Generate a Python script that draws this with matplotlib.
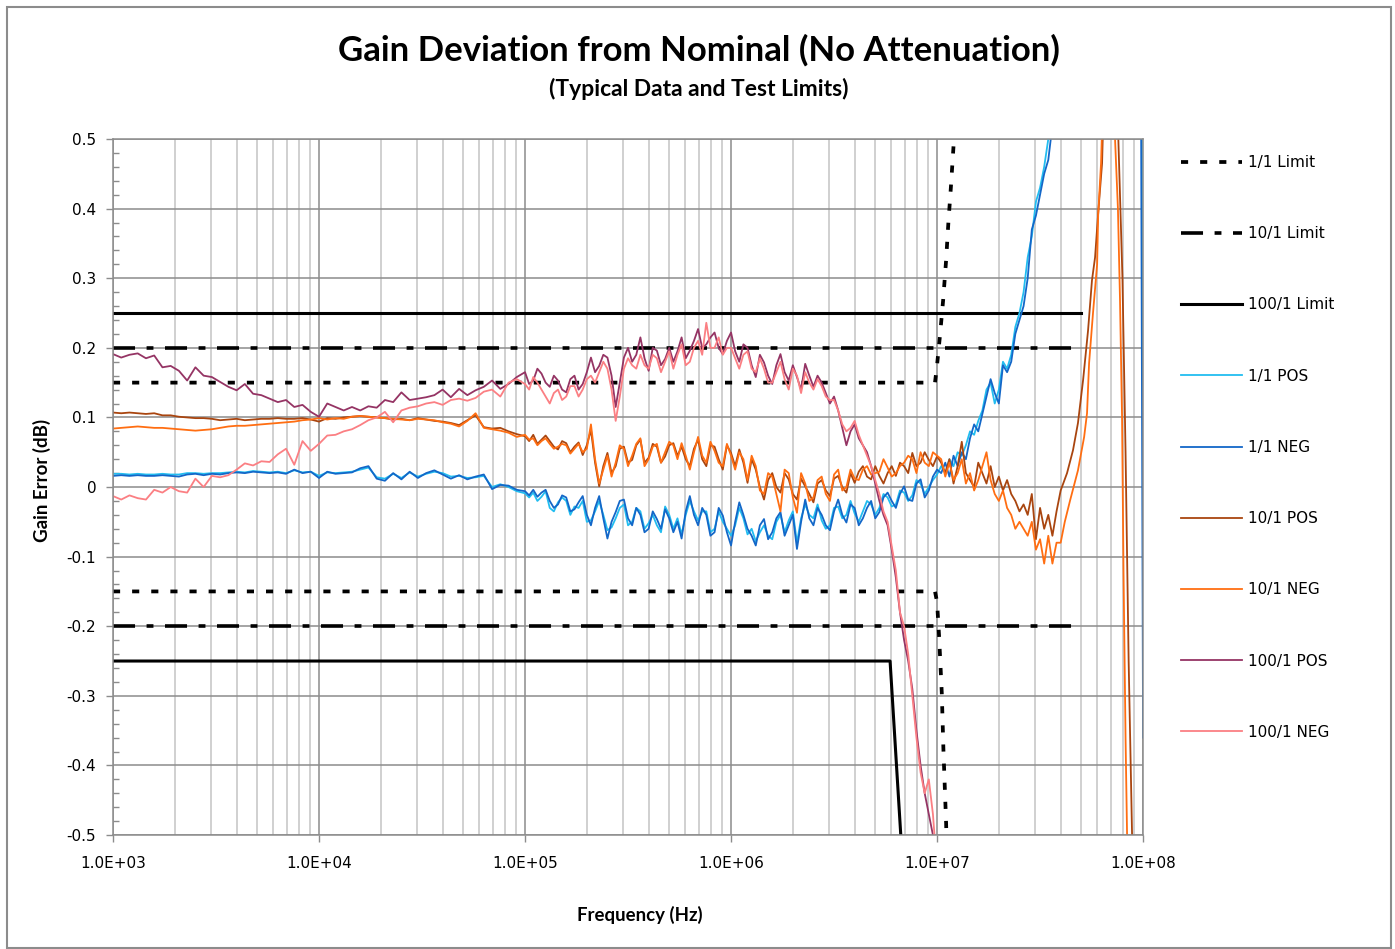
import numpy as np
import matplotlib.pyplot as plt
from matplotlib.patches import Rectangle
from matplotlib.ticker import FuncFormatter, LogLocator, MultipleLocator, NullFormatter

# sweep points, log10(frequency / Hz), 1 kHz .. 10 MHz
sweep = [3.00, 3.04, 3.08, 3.12, 3.16, 3.20, 3.24, 3.28, 3.32, 3.36,
         3.40, 3.44, 3.48, 3.52, 3.56, 3.60, 3.64, 3.68, 3.72, 3.76,
         3.80, 3.84, 3.88, 3.92, 3.96, 4.00, 4.04, 4.08, 4.12, 4.16,
         4.20, 4.24, 4.28, 4.32, 4.36, 4.40, 4.44, 4.48, 4.52, 4.56,
         4.60, 4.64, 4.68, 4.72, 4.76, 4.80, 4.84, 4.88, 4.92, 4.96,
         5.00, 5.04, 5.08, 5.12, 5.16, 5.20, 5.24, 5.28, 5.32, 5.36,
         5.40, 5.44, 5.48, 5.52, 5.56, 5.60, 5.64, 5.68, 5.72, 5.76,
         5.80, 5.84, 5.88, 5.92, 5.96, 6.00, 6.04, 6.08, 6.12, 6.16,
         6.20, 6.24, 6.28, 6.32, 6.36, 6.40, 6.44, 6.48, 6.52, 6.56,
         6.60, 6.64, 6.68, 6.72, 6.76, 6.80, 6.84, 6.88, 6.92, 6.96,
         7.00]

# extra sweep points between the above, 100 kHz .. 10 MHz
sweep_mid = [5.02, 5.06, 5.10, 5.14, 5.18, 5.22, 5.26, 5.30, 5.34, 5.38,
             5.42, 5.46, 5.50, 5.54, 5.58, 5.62, 5.66, 5.70, 5.74, 5.78,
             5.82, 5.86, 5.90, 5.94, 5.98, 6.02, 6.06, 6.10, 6.14, 6.18,
             6.22, 6.26, 6.30, 6.34, 6.38, 6.42, 6.46, 6.50, 6.54, 6.58,
             6.62, 6.66, 6.70, 6.74, 6.78, 6.82, 6.86, 6.90, 6.94, 6.98]

# sweep continued above 10 MHz (1/1 and 10/1 only)
sweep_hf = [7.02, 7.04, 7.06, 7.08, 7.10, 7.12, 7.14, 7.16, 7.18, 7.20,
            7.22, 7.24, 7.26, 7.28, 7.30, 7.32, 7.34, 7.36, 7.38, 7.40,
            7.42, 7.44, 7.46, 7.48, 7.50, 7.52, 7.54, 7.56, 7.58, 7.60]

# gain error (dB) on the main sweep
pos_1 = [0.019, 0.019, 0.018, 0.019, 0.018, 0.018, 0.019, 0.018, 0.018, 0.020,
         0.020, 0.019, 0.020, 0.020, 0.021, 0.022, 0.021, 0.023, 0.022, 0.021,
         0.022, 0.020, 0.024, 0.021, 0.022, 0.016, 0.021, 0.020, 0.021, 0.022,
         0.025, 0.028, 0.014, 0.012, 0.019, 0.013, 0.021, 0.015, 0.019, 0.022,
         0.020, 0.015, 0.016, 0.013, 0.014, 0.016, 0.000, 0.004, 0.000, -0.006,
         -0.009, -0.008, -0.014, -0.030, -0.022, -0.020, -0.028, -0.020, -0.048, -0.020,
         -0.062, -0.045, -0.025, -0.050, -0.035, -0.052, -0.055, -0.028, -0.060, -0.068,
         -0.020, -0.048, -0.035, -0.060, -0.050, -0.070, -0.030, -0.068, -0.078, -0.055,
         -0.075, -0.040, -0.048, -0.080, -0.025, -0.045, -0.048, -0.055, -0.028, -0.040,
         -0.038, -0.035, -0.025, -0.030, -0.015, -0.025, -0.008, -0.012, 0.005, 0.000,
         0.018]
neg_1 = [0.016, 0.017, 0.016, 0.017, 0.016, 0.016, 0.017, 0.016, 0.015, 0.018,
         0.019, 0.017, 0.019, 0.018, 0.020, 0.021, 0.020, 0.022, 0.021, 0.020,
         0.021, 0.019, 0.025, 0.020, 0.022, 0.013, 0.022, 0.019, 0.020, 0.021,
         0.027, 0.030, 0.012, 0.009, 0.020, 0.011, 0.022, 0.013, 0.020, 0.024,
         0.018, 0.012, 0.017, 0.011, 0.015, 0.018, -0.003, 0.003, 0.002, -0.004,
         -0.006, -0.004, -0.008, -0.020, -0.025, -0.015, -0.032, -0.013, -0.055, -0.013,
         -0.074, -0.036, -0.018, -0.055, -0.040, -0.060, -0.046, -0.032, -0.065, -0.074,
         -0.013, -0.055, -0.040, -0.065, -0.041, -0.084, -0.022, -0.060, -0.084, -0.046,
         -0.065, -0.036, -0.055, -0.089, -0.018, -0.055, -0.040, -0.062, -0.018, -0.051,
         -0.030, -0.045, -0.020, -0.036, -0.008, -0.030, 0.001, -0.020, 0.011, -0.005,
         0.025]
pos_10 = [0.107, 0.106, 0.107, 0.106, 0.105, 0.106, 0.103, 0.103, 0.101, 0.100,
          0.099, 0.099, 0.098, 0.096, 0.097, 0.098, 0.096, 0.097, 0.098, 0.098,
          0.099, 0.098, 0.098, 0.099, 0.097, 0.094, 0.099, 0.098, 0.100, 0.101,
          0.102, 0.101, 0.100, 0.099, 0.097, 0.098, 0.096, 0.099, 0.097, 0.095,
          0.094, 0.092, 0.089, 0.096, 0.103, 0.086, 0.084, 0.085, 0.080, 0.076,
          0.073, 0.075, 0.068, 0.066, 0.054, 0.063, 0.058, 0.046, 0.082, 0.001,
          0.049, 0.030, 0.058, 0.039, 0.068, 0.042, 0.058, 0.044, 0.063, 0.058,
          0.030, 0.068, 0.030, 0.058, 0.025, 0.049, 0.054, 0.006, 0.025, -0.018,
          0.020, -0.008, 0.011, -0.018, 0.001, -0.022, 0.010, -0.013, 0.016, -0.008,
          0.006, 0.030, 0.011, 0.016, 0.020, 0.016, 0.030, 0.049, 0.035, 0.039,
          0.044]
neg_10 = [0.084, 0.085, 0.086, 0.087, 0.086, 0.085, 0.085, 0.084, 0.083, 0.082,
          0.081, 0.082, 0.083, 0.085, 0.087, 0.088, 0.088, 0.089, 0.090, 0.091,
          0.092, 0.093, 0.094, 0.096, 0.097, 0.099, 0.097, 0.099, 0.098, 0.101,
          0.102, 0.101, 0.100, 0.099, 0.098, 0.097, 0.096, 0.098, 0.097, 0.096,
          0.093, 0.091, 0.087, 0.095, 0.106, 0.085, 0.083, 0.081, 0.078, 0.072,
          0.075, 0.070, 0.066, 0.062, 0.058, 0.060, 0.055, 0.050, 0.090, 0.005,
          0.045, 0.035, 0.055, 0.045, 0.070, 0.040, 0.062, 0.050, 0.060, 0.063,
          0.025, 0.072, 0.035, 0.052, 0.030, 0.045, 0.050, 0.010, 0.030, -0.010,
          0.015, -0.035, 0.020, -0.037, 0.005, -0.015, 0.015, -0.020, 0.025, 0.000,
          0.012, 0.025, 0.018, 0.022, 0.028, 0.020, 0.035, 0.040, 0.050, 0.030,
          0.045]
pos_100 = [0.191, 0.186, 0.190, 0.192, 0.185, 0.189, 0.172, 0.174, 0.167, 0.153,
           0.172, 0.160, 0.158, 0.151, 0.144, 0.139, 0.148, 0.134, 0.132, 0.127,
           0.122, 0.125, 0.115, 0.118, 0.108, 0.101, 0.120, 0.115, 0.110, 0.115,
           0.110, 0.116, 0.114, 0.125, 0.122, 0.136, 0.125, 0.127, 0.129, 0.132,
           0.140, 0.129, 0.141, 0.132, 0.139, 0.144, 0.153, 0.141, 0.148, 0.158,
           0.165, 0.153, 0.163, 0.144, 0.153, 0.136, 0.160, 0.148, 0.186, 0.174,
           0.186, 0.115, 0.186, 0.180, 0.215, 0.167, 0.196, 0.184, 0.180, 0.215,
           0.196, 0.227, 0.205, 0.222, 0.191, 0.222, 0.180, 0.200, 0.158, 0.179,
           0.148, 0.191, 0.153, 0.158, 0.177, 0.144, 0.150, 0.120, 0.110, 0.060,
           0.090, 0.060, 0.030, -0.020, -0.055, -0.130, -0.220, -0.290, -0.400, -0.470,
           -0.550]
neg_100 = [-0.013, -0.018, -0.012, -0.016, -0.018, -0.004, -0.008, 0.000, -0.006, -0.008,
           0.012, 0.000, 0.016, 0.014, 0.017, 0.025, 0.034, 0.031, 0.037, 0.036,
           0.047, 0.055, 0.032, 0.066, 0.052, 0.062, 0.074, 0.075, 0.080, 0.083,
           0.089, 0.096, 0.100, 0.108, 0.093, 0.110, 0.114, 0.116, 0.120, 0.122,
           0.118, 0.125, 0.127, 0.124, 0.128, 0.137, 0.140, 0.130, 0.150, 0.155,
           0.148, 0.158, 0.140, 0.120, 0.140, 0.130, 0.145, 0.140, 0.160, 0.165,
           0.170, 0.095, 0.170, 0.175, 0.190, 0.170, 0.185, 0.180, 0.170, 0.205,
           0.180, 0.210, 0.236, 0.200, 0.190, 0.200, 0.170, 0.195, 0.165, 0.170,
           0.150, 0.180, 0.140, 0.160, 0.165, 0.140, 0.145, 0.125, 0.110, 0.080,
           0.095, 0.060, 0.030, -0.010, -0.050, -0.120, -0.200, -0.300, -0.410, -0.420,
           -0.550]

# gain error on the in-between points
pos_1_mid = [-0.015, -0.020, -0.006, -0.035, -0.015, -0.040, -0.030, -0.050, -0.035, -0.040,
             -0.058, -0.030, -0.055, -0.030, -0.060, -0.040, -0.065, -0.040, -0.045, -0.040,
             -0.035, -0.035, -0.065, -0.035, -0.060, -0.055, -0.045, -0.060, -0.065, -0.070,
             -0.050, -0.065, -0.035, -0.045, -0.040, -0.025, -0.060, -0.030, -0.045, -0.020,
             -0.050, -0.020, -0.040, -0.010, -0.028, -0.005, -0.020, 0.010, -0.010, 0.010]
neg_1_mid = [-0.012, -0.014, -0.004, -0.030, -0.012, -0.035, -0.022, -0.040, -0.030, -0.045,
             -0.050, -0.020, -0.045, -0.030, -0.065, -0.035, -0.060, -0.045, -0.050, -0.035,
             -0.040, -0.030, -0.070, -0.030, -0.065, -0.050, -0.040, -0.070, -0.055, -0.075,
             -0.045, -0.070, -0.040, -0.050, -0.045, -0.030, -0.055, -0.035, -0.040, -0.025,
             -0.055, -0.030, -0.045, -0.015, -0.020, -0.010, -0.018, 0.005, -0.015, 0.015]
pos_10_mid = [0.066, 0.062, 0.074, 0.058, 0.066, 0.050, 0.064, 0.060, 0.035, 0.030,
              0.020, 0.055, 0.035, 0.060, 0.035, 0.062, 0.035, 0.060, 0.045, 0.040,
              0.055, 0.040, 0.060, 0.040, 0.060, 0.030, 0.035, 0.040, 0.000, 0.010,
              0.000, 0.020, -0.010, 0.012, -0.010, 0.005, -0.005, 0.012, 0.000, 0.020,
              0.022, 0.015, 0.030, 0.005, 0.030, 0.035, 0.020, 0.030, 0.050, 0.030]
neg_10_mid = [0.068, 0.060, 0.070, 0.055, 0.062, 0.048, 0.062, 0.055, 0.040, 0.025,
              0.015, 0.060, 0.030, 0.062, 0.030, 0.058, 0.035, 0.065, 0.040, 0.045,
              0.050, 0.045, 0.065, 0.035, 0.062, 0.025, 0.040, 0.045, -0.005, 0.020,
              -0.010, 0.025, -0.015, 0.020, -0.020, 0.010, -0.010, 0.018, -0.005, 0.025,
              0.010, 0.030, 0.020, 0.040, 0.015, 0.030, 0.045, 0.020, 0.035, 0.050]
pos_100_mid = [0.148, 0.170, 0.150, 0.160, 0.140, 0.155, 0.140, 0.165, 0.165, 0.190,
               0.160, 0.150, 0.200, 0.190, 0.185, 0.200, 0.175, 0.200, 0.195, 0.185,
               0.210, 0.200, 0.215, 0.200, 0.210, 0.195, 0.205, 0.175, 0.190, 0.160,
               0.175, 0.165, 0.175, 0.140, 0.160, 0.160, 0.135, 0.130, 0.085, 0.080,
               0.070, 0.050, 0.005, -0.040, -0.090, -0.180, -0.250, -0.350, -0.440, -0.500]
neg_100_mid = [0.140, 0.150, 0.130, 0.135, 0.125, 0.145, 0.130, 0.155, 0.150, 0.180,
               0.140, 0.130, 0.185, 0.170, 0.175, 0.190, 0.165, 0.195, 0.190, 0.175,
               0.200, 0.190, 0.200, 0.215, 0.200, 0.185, 0.190, 0.170, 0.185, 0.150,
               0.165, 0.155, 0.170, 0.135, 0.150, 0.155, 0.130, 0.125, 0.090, 0.085,
               0.075, 0.045, 0.010, -0.035, -0.085, -0.180, -0.240, -0.360, -0.440, -0.470]

# above 10 MHz
pos_1_hf = [0.030, 0.020, 0.040, 0.030, 0.050, 0.045, 0.060, 0.080, 0.075, 0.095,
            0.110, 0.140, 0.150, 0.120, 0.140, 0.180, 0.170, 0.190, 0.230, 0.250,
            0.280, 0.330, 0.360, 0.410, 0.430, 0.460, 0.500, 0.550, 0.620, 0.720]
neg_1_hf = [0.020, 0.035, 0.015, 0.045, 0.030, 0.050, 0.040, 0.070, 0.090, 0.080,
            0.105, 0.130, 0.155, 0.135, 0.120, 0.175, 0.165, 0.180, 0.220, 0.240,
            0.260, 0.300, 0.370, 0.390, 0.420, 0.450, 0.470, 0.520, 0.600, 0.700]
pos_10_hf = [0.035, 0.020, 0.040, 0.005, 0.030, 0.065, 0.020, 0.010, 0.000, 0.035,
             0.020, 0.005, 0.030, 0.000, 0.015, -0.005, 0.010, -0.010, -0.020, -0.035,
             -0.025, -0.040, -0.010, -0.075, -0.030, -0.060, -0.040, -0.070, -0.035, -0.005]
neg_10_hf = [0.040, 0.015, 0.035, 0.010, 0.020, 0.040, 0.005, 0.020, -0.005, 0.010,
             0.030, 0.050, 0.010, -0.010, -0.020, -0.005, -0.030, -0.040, -0.060, -0.050,
             -0.060, -0.070, -0.050, -0.090, -0.075, -0.110, -0.070, -0.110, -0.080, -0.080]

# resonance region near 100 MHz (values past +/-0.5 run off the chart)
pos_1_end_f = [7.98, 8.00]
pos_1_end = [1.5, 0.14]
neg_1_end_f = [7.98, 8.00]
neg_1_end = [1.5, -0.36]
pos_10_end_f = [7.631, 7.66, 7.684, 7.709, 7.733, 7.752, 7.767, 7.782, 7.801, 7.84,
                7.88, 7.90, 7.915, 7.93, 7.95]
pos_10_end = [0.02, 0.053, 0.092, 0.154, 0.225, 0.297, 0.33, 0.393, 0.465, 0.9,
              0.5, 0.3, 0.05, -0.25, -0.55]
neg_10_end_f = [7.62, 7.646, 7.684, 7.714, 7.728, 7.738, 7.757, 7.777, 7.782, 7.796,
                7.835, 7.864, 7.878, 7.888, 7.898, 7.905, 7.915, 7.925]
neg_10_end = [-0.05, -0.019, 0.024, 0.072, 0.106, 0.178, 0.25, 0.32, 0.39, 0.465,
              0.85, 0.5, 0.4, 0.27, 0.1, -0.12, -0.36, -0.55]

# test limits
lim1_up_f = [3.0, 6.99, 7.0, 7.015, 7.03, 7.044, 7.055, 7.067, 7.08, 7.085]
lim1_up = [0.15, 0.15, 0.175, 0.22, 0.27, 0.326, 0.38, 0.43, 0.49, 0.52]
lim1_lo_f = [3.0, 6.99, 7.0, 7.01, 7.023, 7.031, 7.044, 7.047]
lim1_lo = [-0.15, -0.15, -0.165, -0.215, -0.296, -0.378, -0.483, -0.52]
lim10_f = [3.0, 7.699]
lim10_up = [0.2, 0.2]
lim10_lo = [-0.2, -0.2]
lim100_up_f = [3.0, 7.699]
lim100_up = [0.25, 0.25]
lim100_lo_f = [3.0, 6.772, 6.826]
lim100_lo = [-0.25, -0.25, -0.51]


def hz(logs):
    return 10 ** np.array(logs)


def trace(logs, vals):
    # merge the sweep pieces and put them in frequency order
    logs = np.array(logs)
    vals = np.array(vals)
    o = np.argsort(logs)
    return 10 ** logs[o], vals[o]


fig = plt.figure(figsize=(13.95, 9.49), dpi=100)
ax = fig.add_axes([0.081, 0.1201, 0.7384, 0.7334])

fig.patches.append(Rectangle((7 / 1395, 1.5 / 949), 1384 / 1395, 941 / 949,
                             transform=fig.transFigure, fill=False,
                             edgecolor='#8c8c8c', lw=1.5))

dot = (0, (1.9, 3.2))
dashdot = (0, (6.1, 3.2, 1.9, 3.2))

ax.plot(hz(lim1_up_f), lim1_up, color='black', lw=2.7, ls=dot, label='1/1 Limit')
ax.plot(hz(lim1_lo_f), lim1_lo, color='black', lw=2.7, ls=dot)
ax.plot(hz(lim10_f), lim10_up, color='black', lw=2.6, ls=dashdot, label='10/1 Limit')
ax.plot(hz(lim10_f), lim10_lo, color='black', lw=2.6, ls=dashdot)
ax.plot(hz(lim100_up_f), lim100_up, color='black', lw=2.2, label='100/1 Limit')
ax.plot(hz(lim100_lo_f), lim100_lo, color='black', lw=2.2)

x, y = trace(sweep + sweep_mid + sweep_hf + pos_1_end_f, pos_1 + pos_1_mid + pos_1_hf + pos_1_end)
ax.plot(x, y, color='#22bdf0', lw=1.3, label='1/1 POS')
x, y = trace(sweep + sweep_mid + sweep_hf + neg_1_end_f, neg_1 + neg_1_mid + neg_1_hf + neg_1_end)
ax.plot(x, y, color='#1367c8', lw=1.3, label='1/1 NEG')
x, y = trace(sweep + sweep_mid + sweep_hf + pos_10_end_f, pos_10 + pos_10_mid + pos_10_hf + pos_10_end)
ax.plot(x, y, color='#a9450f', lw=1.3, label='10/1 POS')
x, y = trace(sweep + sweep_mid + sweep_hf + neg_10_end_f, neg_10 + neg_10_mid + neg_10_hf + neg_10_end)
ax.plot(x, y, color='#ff6e12', lw=1.3, label='10/1 NEG')
x, y = trace(sweep + sweep_mid, pos_100 + pos_100_mid)
ax.plot(x, y, color='#953464', lw=1.3, label='100/1 POS')
x, y = trace(sweep + sweep_mid, neg_100 + neg_100_mid)
ax.plot(x, y, color='#fb7f83', lw=1.3, label='100/1 NEG')

ax.set_xscale('log')
ax.set_xlim(1e3, 1e8)
ax.set_ylim(-0.5, 0.5)

ax.set_xticks([1e3, 1e4, 1e5, 1e6, 1e7, 1e8])
ax.xaxis.set_major_formatter(FuncFormatter(lambda v, p: f'{v:.1E}'))
ax.xaxis.set_minor_locator(LogLocator(base=10, subs=[2, 3, 4, 5, 6, 7, 8, 9]))
ax.xaxis.set_minor_formatter(NullFormatter())
ax.yaxis.set_major_locator(MultipleLocator(0.1))
ax.yaxis.set_minor_locator(MultipleLocator(0.02))
ax.yaxis.set_major_formatter(FuncFormatter(lambda v, p: '0' if abs(v) < 1e-9 else f'{v:.1f}'))

ax.grid(which='major', axis='both', color='#8c8c8c', lw=1.1)
ax.grid(which='minor', axis='x', color='#c4c4c4', lw=1.1)
for s in ax.spines.values():
    s.set_color('#8c8c8c')
    s.set_linewidth(1.1)

ax.tick_params(axis='y', which='major', direction='out', length=5, width=1, color='#8c8c8c',
               labelsize=11, pad=7)
ax.tick_params(axis='y', which='minor', direction='in', length=4, width=1, color='#8c8c8c')
ax.tick_params(axis='x', which='major', direction='out', length=5, width=1, color='#8c8c8c',
               labelsize=11, pad=10)
ax.tick_params(axis='x', which='minor', length=0)

fig.text(0.501, 1 - 50 / 949, 'Gain Deviation from Nominal (No Attenuation)',
         ha='center', va='center', fontsize=25, fontweight='bold', family='Lato')
fig.text(0.501, 1 - 89 / 949, '(Typical Data and Test Limits)',
         ha='center', va='center', fontsize=16.5, fontweight='bold', family='Lato')
fig.text(42 / 1395, 1 - 480 / 949, 'Gain Error (dB)', rotation=90,
         ha='center', va='center', fontsize=13.5, fontweight='bold', family='Lato')
fig.text(640 / 1395, 1 - 915 / 949, 'Frequency (Hz)',
         ha='center', va='center', fontsize=13.4, fontweight='bold', family='Lato')

fig.legend(loc='upper left', bbox_to_anchor=(1181 / 1395, 1 - 155 / 949), frameon=False,
           fontsize=11, handlelength=4.0, handletextpad=0.4, labelspacing=3.68,
           borderpad=0, borderaxespad=0)

fig.savefig('out.png', dpi=100)
